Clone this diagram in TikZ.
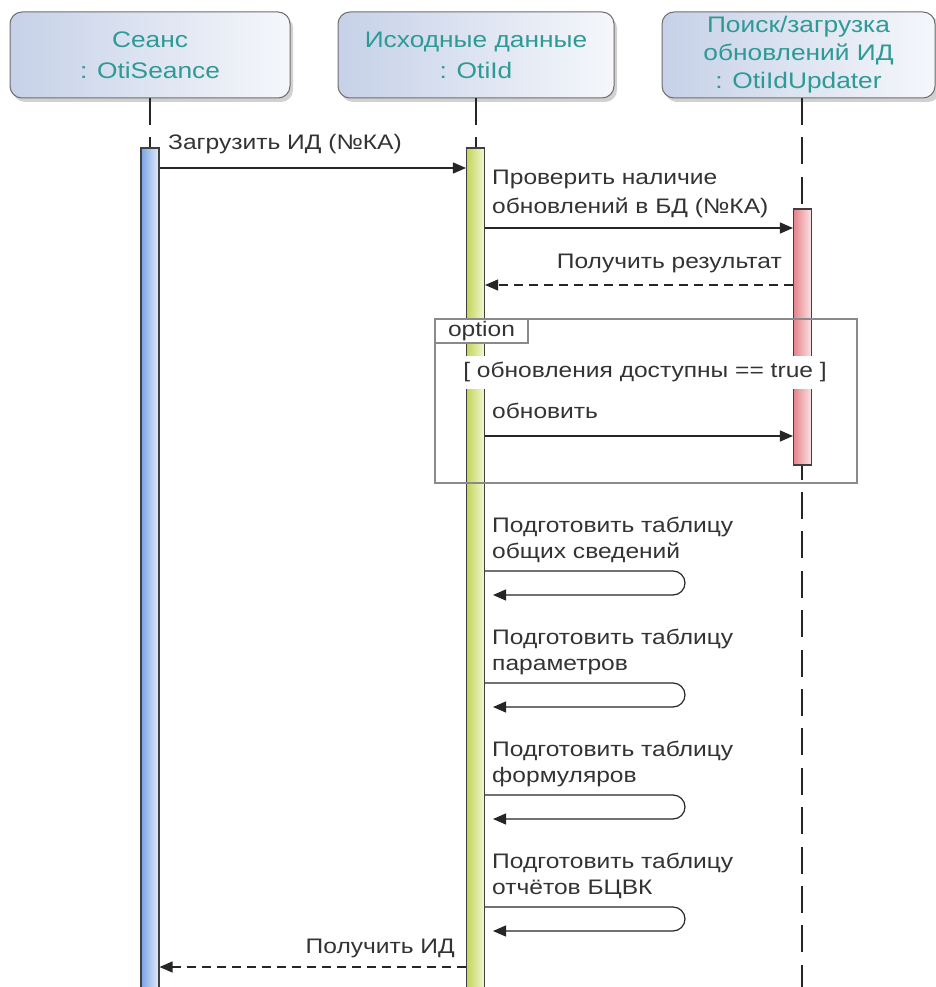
\documentclass[tikz,border=0pt]{standalone}
\usepackage{fontspec}
\setmainfont{Liberation Sans}[FakeStretch=1.17]
\usetikzlibrary{arrows.meta}

\definecolor{headtxt}{HTML}{2E9A96}
\definecolor{headL}{HTML}{C6D1E8}
\definecolor{headR}{HTML}{F5F7FB}
\definecolor{edge}{HTML}{6E6E6E}
\definecolor{msgtxt}{HTML}{333333}
\definecolor{blueL}{HTML}{7AA2E4}
\definecolor{blueR}{HTML}{E4ECF9}
\definecolor{greenL}{HTML}{C3D45A}
\definecolor{greenR}{HTML}{F4F8D2}
\definecolor{redL}{HTML}{E5838A}
\definecolor{redR}{HTML}{FBE4E5}
\definecolor{framecol}{HTML}{8A8A8A}

\tikzset{
  header/.style={rounded corners=12pt, draw=edge, line width=1pt,
    left color=headL, right color=headR, text=headtxt, align=center,
    minimum height=86pt, inner sep=0pt},
  hshadow/.style={rounded corners=12pt, fill=black, opacity=0.18},
  lifeline/.style={line width=1.3pt, draw=black!85, dash pattern=on 27pt off 12.4pt},
  actbar/.style={draw=black!75, line width=1.1pt, minimum width=18pt, inner sep=0pt},
  msg/.style={line width=1.2pt, draw=black!85, -{Triangle[length=13pt,width=11pt]}},
  reply/.style={msg, dash pattern=on 9pt off 6pt},
  mlabel/.style={text=msgtxt, font=\fontsize{21}{25}\selectfont, inner sep=0pt},
}

\begin{document}
\begin{tikzpicture}[x=1pt, y=-1pt]
\useasboundingbox (0,0) rectangle (936,987);
\fill[white] (0,0) rectangle (936,987);

% ---- object headers -------------------------------------------------
\fill[hshadow] (13,16) rectangle (293,102);
\fill[hshadow] (341,16) rectangle (617,102);
\fill[hshadow] (665,16) rectangle (940,102);

\node[header, minimum width=280pt, font=\fontsize{22.5}{31}\selectfont]
  (seance) at (150,55) {Сеанс\\: OtiSeance};
\node[header, minimum width=276pt, font=\fontsize{22.5}{31}\selectfont]
  (otiid) at (476,55) {Исходные данные\\: OtiId};
\node[header, minimum width=273pt, font=\fontsize{22.5}{28}\selectfont]
  (updater) at (798.5,55) {Поиск/загрузка\\обновлений ИД\\: OtiIdUpdater};

% ---- lifelines --------------------------------------------------------
\coordinate (end1) at (150,990);
\coordinate (end2) at (476,990);
\coordinate (end3) at (802,990);
\draw[lifeline] (150,98) -- (end1);
\draw[lifeline] (476,98) -- (end2);
\draw[lifeline] (802,98) -- (end3);

% ---- activation bars --------------------------------------------------
\node[actbar, left color=blueL, right color=blueR, minimum height=845pt]
  (bar1) at (150,570.5) {};
\node[actbar, left color=greenL, right color=greenR, minimum height=845pt]
  (bar2) at (475.5,570.5) {};
\node[actbar, left color=redL, right color=redR, minimum height=256pt]
  (bar3) at (802.5,337) {};

% ---- option fragment ---------------------------------------------------
\node[draw=framecol, line width=1.1pt, minimum width=422pt, minimum height=164pt,
      inner sep=0pt] (opt) at (646,401) {};
\node[draw=framecol, fill=white, line width=1.1pt, anchor=north west,
      minimum width=93pt, minimum height=24pt, inner sep=0pt,
      text=msgtxt, font=\fontsize{21}{25}\selectfont]
  (optlabel) at (opt.north west) {option};
\node[fill=white, inner xsep=4pt, minimum height=33pt, text=msgtxt,
      font=\fontsize{21}{25}\selectfont]
  (guard) at (645,372) {[ обновления доступны == true ]};

% ---- message rows -----------------------------------------------------
\coordinate (r1) at (0,168);
\coordinate (r2) at (0,228);
\coordinate (r3) at (0,285);
\coordinate (r4) at (0,436);
\coordinate (r5) at (0,967);

\draw[msg] (bar1.east |- r1) -- (bar2.west |- r1);
\node[mlabel, anchor=base west] (t1) at (168,150) {Загрузить ИД (№КА)};

\draw[msg] (bar2.east |- r2) -- (bar3.west |- r2);
\node[mlabel, anchor=base west] (t2a) at (492,185) {Проверить наличие};
\node[mlabel, anchor=base west] (t2b) at (492,213) {обновлений в БД (№КА)};

\draw[reply] (bar3.west |- r3) -- (bar2.east |- r3);
\node[mlabel, anchor=base east] (t3) at (782,268) {Получить результат};

\draw[msg] (bar2.east |- r4) -- (bar3.west |- r4);
\node[mlabel, anchor=base west] (t4) at (492,418) {обновить};

% ---- self calls ---------------------------------------------------------
\foreach \top/\la/\lb [count=\k] in {
    571/{Подготовить таблицу}/{общих сведений},
    683/{Подготовить таблицу}/{параметров},
    795/{Подготовить таблицу}/{формуляров},
    907/{Подготовить таблицу}/{отчётов БЦВК}} {
  \coordinate (s\k) at (0,\top);
  \coordinate (sret\k) at (493,\top+24);
  \draw[msg] (bar2.east |- s\k) -- (673,\top)
      arc[start angle=-90, end angle=90, radius=12] -- (sret\k);
  \node[mlabel, anchor=base west] (sa\k) at (492,\top-39) {\la};
  \node[mlabel, anchor=base west] (sb\k) at (492,\top-13) {\lb};
}

\draw[reply] (bar2.west |- r5) -- (bar1.east |- r5);
\node[mlabel, anchor=base east] (t5) at (455,953) {Получить ИД};

\end{tikzpicture}
\end{document}
